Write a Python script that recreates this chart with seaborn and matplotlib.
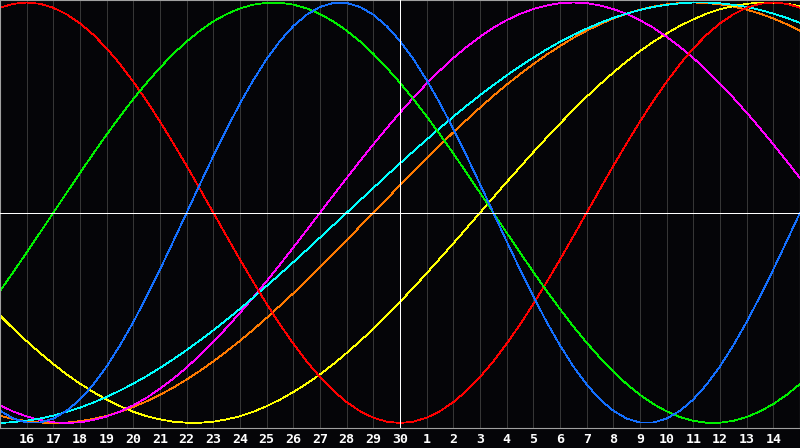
import matplotlib
matplotlib.use("Agg")
import matplotlib.pyplot as plt
import seaborn as sns
import pandas as pd

# Day index 0..30 (0 = the 15th of the previous month, 15 = today, the 30th)
days = list(range(31))
half_days = [d + 0.5 for d in range(30)]
tick_days = list(range(1, 30))
tick_labels = ["16", "17", "18", "19", "20", "21", "22", "23", "24", "25", "26",
               "27", "28", "29", "30", "1", "2", "3", "4", "5", "6", "7", "8",
               "9", "10", "11", "12", "13", "14"]

# Cycle values (percent): on each day, and half-way between
red = [97.5, 100, 97.5, 90.1, 78.2, 62.3, 43.4, 22.3, 0, -22.3, -43.4, -62.3,
       -78.2, -90.1, -97.5, -100, -97.5, -90.1, -78.2, -62.3, -43.4, -22.3, 0,
       22.3, 43.4, 62.3, 78.2, 90.1, 97.5, 100, 97.5]
red_half = [99.4, 99.4, 94.4, 84.7, 70.7, 53.2, 33.0, 11.2, -11.2, -33.0, -53.2,
            -70.7, -84.7, -94.4, -99.4, -99.4, -94.4, -84.7, -70.7, -53.2, -33.0,
            -11.2, 11.2, 33.0, 53.2, 70.7, 84.7, 94.4, 99.4, 99.4]
green = [-37.2, -18.9, 0, 18.9, 37.2, 54.1, 69.0, 81.5, 91.0, 97.2, 99.9, 99.0,
         94.5, 86.6, 75.6, 61.8, 45.8, 28.2, 9.5, -9.5, -28.2, -45.8, -61.8,
         -75.6, -86.6, -94.5, -99.0, -99.9, -97.2, -91.0, -81.5]
green_half = [-28.2, -9.5, 9.5, 28.2, 45.8, 61.8, 75.6, 86.6, 94.5, 99.0, 99.9,
              97.2, 91.0, 81.5, 69.0, 54.1, 37.2, 18.9, 0, -18.9, -37.2, -54.1,
              -69.0, -81.5, -91.0, -97.2, -99.9, -99.0, -94.5, -86.6]
blue = [-94.2, -99.8, -97.9, -88.8, -73.1, -52.0, -27.0, 0, 27.0, 52.0, 73.1,
        88.8, 97.9, 99.8, 94.2, 81.7, 63.1, 39.8, 13.6, -13.6, -39.8, -63.1,
        -81.7, -94.2, -99.8, -97.9, -88.8, -73.1, -52.0, -27.0, 0]
blue_half = [-97.9, -99.8, -94.2, -81.7, -63.1, -39.8, -13.6, 13.6, 39.8, 63.1,
             81.7, 94.2, 99.8, 97.9, 88.8, 73.1, 52.0, 27.0, 0, -27.0, -52.0,
             -73.1, -88.8, -97.9, -99.8, -94.2, -81.7, -63.1, -39.8, -13.6]
magenta = [-91.6, -96.9, -99.7, -99.7, -96.9, -91.6, -83.7, -73.6, -61.4, -47.6,
           -32.5, -16.5, 0, 16.5, 32.5, 47.6, 61.4, 73.6, 83.7, 91.6, 96.9, 99.7,
           99.7, 96.9, 91.6, 83.7, 73.6, 61.4, 47.6, 32.5, 16.5]
magenta_half = [-94.6, -98.6, -100, -98.6, -94.6, -88.0, -78.9, -67.7, -54.7,
                -40.2, -24.6, -8.3, 8.3, 24.6, 40.2, 54.7, 67.7, 78.9, 88.0, 94.6,
                98.6, 100, 98.6, 94.6, 88.0, 78.9, 67.7, 54.7, 40.2, 24.6]
cyan = [-100.0, -98.9, -96.5, -92.7, -87.6, -81.3, -73.8, -65.3, -55.9, -45.7,
        -34.8, -23.5, -11.8, 0, 11.8, 23.5, 34.8, 45.7, 55.9, 65.3, 73.8, 81.3,
        87.6, 92.7, 96.5, 98.9, 100.0, 99.6, 97.9, 94.7, 90.3]
cyan_half = [-99.6, -97.9, -94.7, -90.3, -84.6, -77.7, -69.7, -60.7, -50.9, -40.3,
             -29.2, -17.7, -5.9, 5.9, 17.7, 29.2, 40.3, 50.9, 60.7, 69.7, 77.7,
             84.6, 90.3, 94.7, 97.9, 99.6, 100.0, 98.9, 96.5, 92.7]
orange = [-96.6, -99.1, -100, -99.1, -96.6, -92.4, -86.6, -79.3, -70.7, -60.9,
          -50.0, -38.3, -25.9, -13.1, 0, 13.1, 25.9, 38.3, 50.0, 60.9, 70.7,
          79.3, 86.6, 92.4, 96.6, 99.1, 100, 99.1, 96.6, 92.4, 86.6]
orange_half = [-98.1, -99.8, -99.8, -98.1, -94.7, -89.7, -83.2, -75.2, -65.9,
               -55.6, -44.2, -32.1, -19.5, -6.5, 6.5, 19.5, 32.1, 44.2, 55.6,
               65.9, 75.2, 83.2, 89.7, 94.7, 98.1, 99.8, 99.8, 98.1, 94.7, 89.7]
yellow = [-48.9, -61.1, -72.0, -81.3, -88.9, -94.7, -98.3, -99.9, -99.4, -96.8,
          -92.0, -85.3, -76.9, -66.7, -55.2, -42.4, -28.8, -14.6, 0, 14.6, 28.8,
          42.4, 55.2, 66.7, 76.9, 85.3, 92.0, 96.8, 99.4, 99.9, 98.3]
yellow_half = [-55.2, -66.7, -76.9, -85.3, -92.0, -96.8, -99.4, -99.9, -98.3,
               -94.7, -88.9, -81.3, -72.0, -61.1, -48.9, -35.7, -21.7, -7.3, 7.3,
               21.7, 35.7, 48.9, 61.1, 72.0, 81.3, 88.9, 94.7, 98.3, 99.9, 99.4]

series = {"orange": (orange, orange_half), "yellow": (yellow, yellow_half),
          "magenta": (magenta, magenta_half), "cyan": (cyan, cyan_half),
          "red": (red, red_half), "green": (green, green_half),
          "blue": (blue, blue_half)}
colors = {"red": "#ff0000", "green": "#00f000", "blue": "#1470ff",
          "magenta": "#ff00ff", "cyan": "#00ffff", "orange": "#ff7a00",
          "yellow": "#ffff00"}

frames = []
for name, (whole, half) in series.items():
    frames.append(pd.DataFrame({"day": days, "value": whole, "series": name}))
    frames.append(pd.DataFrame({"day": half_days, "value": half, "series": name}))
df = pd.concat(frames, ignore_index=True).sort_values(["series", "day"])

bg = "#050508"
sns.set_style("dark")
plt.rcParams["font.family"] = ["DejaVu Sans Mono", "DejaVu Sans"]

fig = plt.figure(figsize=(8.0, 4.48), dpi=100, facecolor=bg)
ax = fig.add_axes([0, 20 / 448, 1, 428 / 448])
ax.set_facecolor(bg)

lw = 0.55  # thin, about one pixel

# day grid
for d in tick_days:
    ax.axvline(d, color="#363636", linewidth=lw, antialiased=False, zorder=0)

sns.lineplot(data=df, x="day", y="value", hue="series",
             hue_order=list(series.keys()), palette=colors, legend=False,
             linewidth=lw, ax=ax, estimator=None, sort=True)
for ln in ax.get_lines():
    ln.set_antialiased(False)

ax.axhline(0, color="white", linewidth=lw, antialiased=False, zorder=5)
ax.axvline(15, color="white", linewidth=lw, antialiased=False, zorder=5)

ax.set_xlim(0, 30)
ax.set_ylim(-102.4, 101.2)
ax.set_xticks(tick_days)
ax.set_xticklabels(tick_labels, color="white", fontsize=9.5, fontweight="bold")
ax.set_yticks([])
ax.tick_params(axis="x", length=0, pad=3.5)
ax.set_xlabel("")
ax.set_ylabel("")
ax.grid(False)
for s in ax.spines.values():
    s.set_visible(True)
    s.set_color("#a0a0a0")
    s.set_linewidth(0.8)

fig.savefig("out.png", dpi=100, facecolor=bg)
